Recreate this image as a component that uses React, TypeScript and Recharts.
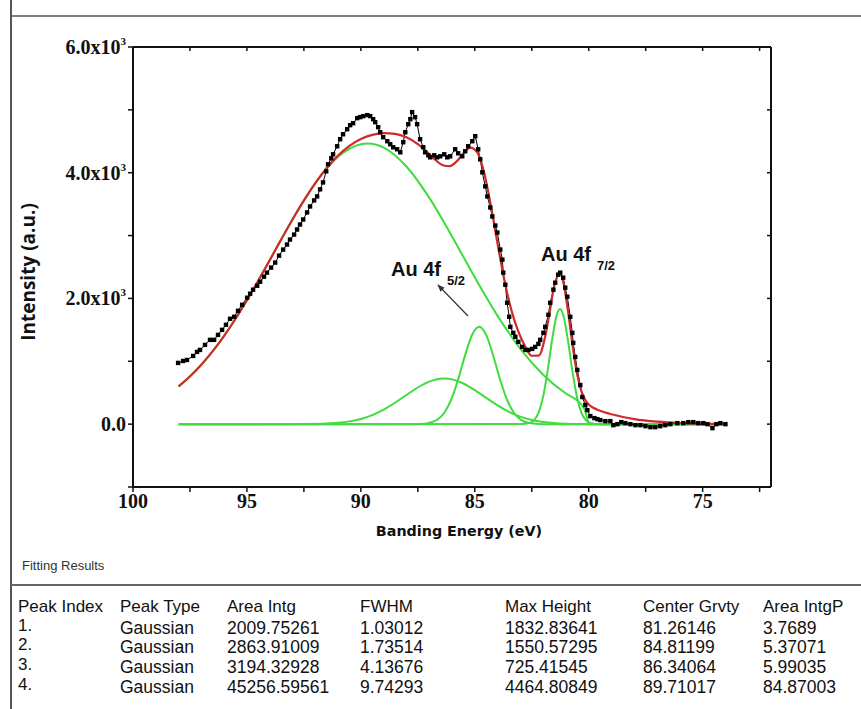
import React from "react";
import { LineChart, Line, XAxis, YAxis } from "recharts";

// measured spectrum (binding energy in eV, counts)
const obsEnergy = [
  98.02, 97.8, 97.63, 97.36, 97.19, 97.06, 96.84, 96.62, 96.44, 96.27, 96.09, 95.92, 95.74, 95.56, 95.39,
  95.21, 94.99, 94.86, 94.73, 94.55, 94.42, 94.25, 94.12, 93.94, 93.76, 93.59, 93.41, 93.24, 93.11, 92.93,
  92.8, 92.67, 92.53, 92.36, 92.23, 92.05, 91.92, 91.79, 91.66, 91.52, 91.44, 91.3, 91.22, 91.04, 90.91,
  90.78, 90.6, 90.47, 90.34, 90.16, 90.03, 89.9, 89.72, 89.59, 89.46, 89.37, 89.24, 89.15, 89.02, 88.84,
  88.71, 88.58, 88.41, 88.27, 88.14, 88.05, 87.92, 87.83, 87.75, 87.62, 87.53, 87.4, 87.26, 87.18, 87.04,
  86.96, 86.78, 86.65, 86.52, 86.34, 86.21, 86.08, 85.86, 85.73, 85.55, 85.42, 85.29, 85.11, 84.98, 84.85,
  84.76, 84.67, 84.54, 84.45, 84.32, 84.23, 84.1, 84.01, 83.88, 83.79, 83.75, 83.66, 83.58, 83.49, 83.44,
  83.31, 83.22, 83.09, 82.92, 82.78, 82.65, 82.48, 82.35, 82.21, 82.13, 81.99, 81.91, 81.77, 81.69, 81.55,
  81.47, 81.34, 81.25, 81.12, 81.03, 80.94, 80.81, 80.72, 80.68, 80.59, 80.5, 80.37, 80.28, 80.15, 80.06,
  79.93, 79.75, 79.62, 79.49, 79.27, 79.05, 78.92, 78.74, 78.57, 78.39, 78.17, 77.95, 77.73, 77.51, 77.29,
  77.08, 76.86, 76.64, 76.42, 76.11, 75.85, 75.63, 75.41, 75.19, 74.97, 74.79, 74.57, 74.4, 74.22, 74.0,
];
const obsCounts = [
  974, 1005, 1021, 1085, 1149, 1181, 1261, 1341, 1341, 1420, 1500, 1580, 1676, 1708, 1803,
  1899, 2011, 2075, 2139, 2202, 2266, 2346, 2410, 2490, 2570, 2681, 2777, 2857, 2937, 3016,
  3096, 3176, 3256, 3368, 3463, 3559, 3623, 3735, 3846, 4022, 4134, 4229, 4293, 4421, 4533,
  4612, 4692, 4756, 4788, 4868, 4884, 4900, 4916, 4900, 4852, 4804, 4724, 4644, 4565, 4501,
  4453, 4405, 4373, 4325, 4485, 4644, 4772, 4852, 4964, 4884, 4772, 4533, 4405, 4325, 4277,
  4245, 4277, 4245, 4261, 4293, 4245, 4261, 4373, 4309, 4261, 4341, 4421, 4501, 4581, 4373,
  4213, 4006, 3783, 3623, 3447, 3304, 3160, 3048, 2777, 2617, 2410, 2218, 1931, 1708, 1548,
  1452, 1389, 1309, 1229, 1181, 1181, 1197, 1229, 1277, 1341, 1452, 1548, 1740, 1931, 2139,
  2250, 2378, 2410, 2330, 2171, 2027, 1708, 1452, 1293, 1069, 862, 622, 431, 303, 223,
  128, 96, 80, 64, 48, 48, -16, 0, 32, 16, 0, -16, -16, -32, -48,
  -48, -32, -16, 0, 16, 16, 32, 32, 16, 16, 0, -64, 0, 16, 0,
];

// cumulative fit
const fitEnergy = [
  98, 97.5, 97, 96.5, 96, 95.5, 95, 94.5, 94, 93.5, 93, 92.5, 92, 91.5, 91, 90.5, 90, 89.5, 89, 88.5,
  88, 87.5, 87, 86.7, 86.4, 86.1, 85.8, 85.5, 85.2, 84.9, 84.6, 84.3, 84.0, 83.7, 83.4, 83.1, 82.8, 82.5,
  82.2, 81.9, 81.7, 81.5, 81.25, 81.1, 80.9, 80.7, 80.5, 80.3, 80.1, 79.8, 79.5, 79, 78.5, 78, 77, 76, 75, 74,
];
const fitCounts = [
  600, 759, 946, 1161, 1405, 1677, 1972, 2284, 2608, 2935, 3255, 3559, 3835, 4076, 4274, 4428, 4537, 4603, 4630, 4618,
  4563, 4456, 4298, 4195, 4118, 4104, 4178, 4308, 4400, 4330, 4016, 3489, 2869, 2288, 1822, 1483, 1244, 1088,
  1090, 1411, 1812, 2216, 2396, 2234, 1774, 1229, 783, 503, 355, 261, 213, 157, 114, 81, 40, 18, 8, 3,
];

// fitted components
const peak1Energy = [98, 83.0, 82.6, 82.4, 82.2, 82.0, 81.8, 81.6, 81.4, 81.26, 81.1, 80.9, 80.7, 80.5, 80.3, 80.1, 79.9, 79.5, 74];
const peak1Counts = [0, 1, 17, 61, 182, 438, 856, 1355, 1742, 1833, 1714, 1306, 808, 405, 165, 54, 15, 0, 0];

const peak2Energy = [98, 87.8, 87.4, 87.0, 86.6, 86.3, 86.0, 85.7, 85.4, 85.1, 84.81, 84.5, 84.2, 83.9, 83.6, 83.3, 83.0, 82.6, 82.2, 81.8, 74];
const peak2Counts = [0, 0, 3, 19, 81, 201, 421, 748, 1126, 1435, 1551, 1420, 1101, 723, 403, 190, 76, 17, 3, 0, 0];

const peak3Energy = [98, 93, 92.5, 91.5, 91, 90.5, 90, 89.5, 89, 88.5, 88, 87.5, 87, 86.7, 86.34, 86.0, 85.5, 85, 84.5, 84, 83.5, 83, 82.5, 82, 81, 80, 79, 74];
const peak3Counts = [0, 0, 2, 10, 21, 44, 83, 144, 230, 340, 464, 583, 676, 710, 725, 712, 647, 542, 419, 299, 196, 119, 66, 34, 7, 1, 0, 0];

const peak4Energy = [98, 97, 96, 95, 94, 93, 92, 91, 90, 89.71, 89, 88, 87, 86, 85, 84, 83, 82, 81, 80.5, 80.2, 79.95, 74];
const peak4Counts = [600, 946, 1405, 1972, 2608, 3254, 3831, 4253, 4454, 4465, 4400, 4099, 3603, 2987, 2336, 1723, 1199, 787, 487, 375, 250, 0, 0];

const xTicks = [100, 97.5, 95, 92.5, 90, 87.5, 85, 82.5, 80, 77.5, 75, 72.5];
const yTicks = [-1000, 0, 1000, 2000, 3000, 4000, 5000, 6000];

// fitting results table
const tableHeader = ["Peak Index", "Peak Type", "Area Intg", "FWHM", "Max Height", "Center Grvty", "Area IntgP"];
const peakIndex = ["1.", "2.", "3.", "4."];
const peakType = ["Gaussian", "Gaussian", "Gaussian", "Gaussian"];
const areaIntg = ["2009.75261", "2863.91009", "3194.32928", "45256.59561"];
const fwhm = ["1.03012", "1.73514", "4.13676", "9.74293"];
const maxHeight = ["1832.83641", "1550.57295", "725.41545", "4464.80849"];
const centerGrvty = ["81.26146", "84.81199", "86.34064", "89.71017"];
const areaIntgP = ["3.7689", "5.37071", "5.99035", "84.87003"];

const toPoints = (xs: number[], ys: number[]) => xs.map((x, i) => ({ x, y: ys[i] }));

const observed = toPoints(obsEnergy, obsCounts);
const fit = toPoints(fitEnergy, fitCounts);
const components = [
  toPoints(peak1Energy, peak1Counts),
  toPoints(peak2Energy, peak2Counts),
  toPoints(peak3Energy, peak3Counts),
  toPoints(peak4Energy, peak4Counts),
];

const GREEN = "#3fdc3f";
const RED = "#cf2a2a";
const SERIF = "'Liberation Serif', 'Times New Roman', serif";
const SANS = "'Liberation Sans', Arial, sans-serif";

const SquareDot = (props: any) => {
  const { cx, cy, index } = props;
  if (cx == null || cy == null) return <g key={`d${index}`} />;
  return <rect key={`d${index}`} x={cx - 2.2} y={cy - 2.2} width={4.4} height={4.4} fill="#000" />;
};

// keeps the tick marks on the mirrored axes but draws no label
const NoLabel = () => <g />;

const YTick = (props: any) => {
  const { x, y, payload } = props;
  const v = payload.value as number;
  if (v % 2000 !== 0) return <g />;
  return (
    <text x={x} y={y} dy="0.35em" textAnchor="end" fontFamily={SERIF} fontWeight="bold" fontSize={20} fill="#111">
      {v === 0 ? (
        "0.0"
      ) : (
        <>
          {`${(v / 1000).toFixed(1)}x10`}
          <tspan dy={-9} fontSize={11}>3</tspan>
        </>
      )}
    </text>
  );
};

const colX = [18, 120, 227, 360, 505, 643, 763];
const rowY = [628, 647, 667, 687];

export default function App() {
  const columns = [peakType, areaIntg, fwhm, maxHeight, centerGrvty, areaIntgP];
  return (
    <div style={{ position: "absolute", left: 0, top: 0, width: 861, height: 709, background: "#fff", overflow: "hidden" }}>
      <LineChart width={861} height={560} margin={{ top: 47, right: 90, bottom: 43, left: 73 }}>
        <XAxis
          dataKey="x"
          type="number"
          domain={[72, 100]}
          reversed
          allowDataOverflow
          ticks={xTicks}
          interval={0}
          tickFormatter={(v: number) => (v % 5 === 0 ? String(v) : "")}
          tick={{ fontFamily: SERIF, fontWeight: "bold", fontSize: 20, fill: "#111" }}
          tickSize={5}
          height={30}
          axisLine={{ stroke: "#111", strokeWidth: 2 }}
          tickLine={{ stroke: "#111", strokeWidth: 1.5 }}
        />
        <XAxis
          xAxisId="top"
          orientation="top"
          dataKey="x"
          type="number"
          domain={[72, 100]}
          reversed
          allowDataOverflow
          ticks={xTicks}
          interval={0}
          mirror
          tick={<NoLabel />}
          tickSize={4}
          height={1}
          axisLine={{ stroke: "#111", strokeWidth: 2 }}
          tickLine={{ stroke: "#111", strokeWidth: 1.5 }}
        />
        <YAxis
          type="number"
          domain={[-1000, 6000]}
          allowDataOverflow
          ticks={yTicks}
          interval={0}
          tick={<YTick />}
          tickSize={5}
          width={60}
          axisLine={{ stroke: "#111", strokeWidth: 2 }}
          tickLine={{ stroke: "#111", strokeWidth: 1.5 }}
        />
        <YAxis
          yAxisId="right"
          orientation="right"
          type="number"
          domain={[-1000, 6000]}
          allowDataOverflow
          ticks={yTicks}
          interval={0}
          mirror
          tick={<NoLabel />}
          tickSize={4}
          width={1}
          axisLine={{ stroke: "#111", strokeWidth: 2 }}
          tickLine={{ stroke: "#111", strokeWidth: 1.5 }}
        />
        {components.map((c, i) => (
          <Line
            key={`g${i}`}
            data={c}
            dataKey="y"
            type="monotone"
            stroke={GREEN}
            strokeWidth={2}
            dot={false}
            isAnimationActive={false}
          />
        ))}
        <Line data={observed} dataKey="y" type="linear" stroke="#000" strokeWidth={1} dot={SquareDot} isAnimationActive={false} />
        <Line data={fit} dataKey="y" type="monotone" stroke={RED} strokeWidth={2.2} dot={false} isAnimationActive={false} />
      </LineChart>

      <svg width={861} height={709} style={{ position: "absolute", left: 0, top: 0, pointerEvents: "none" }}>
        <defs>
          <marker id="arrowHead" viewBox="0 0 10 10" refX="9" refY="5" markerWidth="6" markerHeight="6" orient="auto">
            <path d="M0,1 L10,5 L0,9 z" fill="#333" />
          </marker>
        </defs>
        <line x1={11} y1={0} x2={11} y2={709} stroke="#555" strokeWidth={2} />
        <line x1={11} y1={16} x2={861} y2={16} stroke="#555" strokeWidth={1.5} />
        <line x1={11} y1={585} x2={861} y2={585} stroke="#666" strokeWidth={2} />

        <text
          x={28}
          y={272}
          transform="rotate(-90 28 272)"
          textAnchor="middle"
          dominantBaseline="central"
          fontFamily="'Open Sans', sans-serif"
          fontWeight="bold"
          fontSize={19}
          fill="#111"
        >
          Intensity (a.u.)
        </text>
        <text x={459} y={531} textAnchor="middle" dominantBaseline="central" fontFamily="'DejaVu Sans', sans-serif" fontWeight="bold" fontSize={14.3} fill="#111">
          Banding Energy (eV)
        </text>

        <text x={391} y={269} dominantBaseline="central" fontFamily={SANS} fontWeight="bold" fontSize={20} fill="#111">
          Au 4f
          <tspan dx={6} dy={11} fontSize={13}>5/2</tspan>
        </text>
        <text x={541} y={254} dominantBaseline="central" fontFamily={SANS} fontWeight="bold" fontSize={20} fill="#111">
          Au 4f
          <tspan dx={6} dy={11} fontSize={13}>7/2</tspan>
        </text>
        <line x1={468} y1={316} x2={438} y2={285} stroke="#333" strokeWidth={1.2} markerEnd="url(#arrowHead)" />

        <text x={22} y={565} dominantBaseline="central" fontFamily={SANS} fontSize={13} fill="#333">
          Fitting Results
        </text>
        {tableHeader.map((h, i) => (
          <text key={h} x={colX[i]} y={606} dominantBaseline="central" fontFamily={SANS} fontSize={17} fill="#111">
            {h}
          </text>
        ))}
        {peakIndex.map((p, r) => (
          <text key={p} x={colX[0]} y={rowY[r] - 3} dominantBaseline="central" fontFamily={SANS} fontSize={17} fill="#111">
            {p}
          </text>
        ))}
        {columns.map((col, c) =>
          col.map((val, r) => (
            <text key={`${c}-${r}`} x={colX[c + 1]} y={rowY[r]} dominantBaseline="central" fontFamily={SANS} fontSize={17.5} fill="#111">
              {val}
            </text>
          ))
        )}
      </svg>
    </div>
  );
}
